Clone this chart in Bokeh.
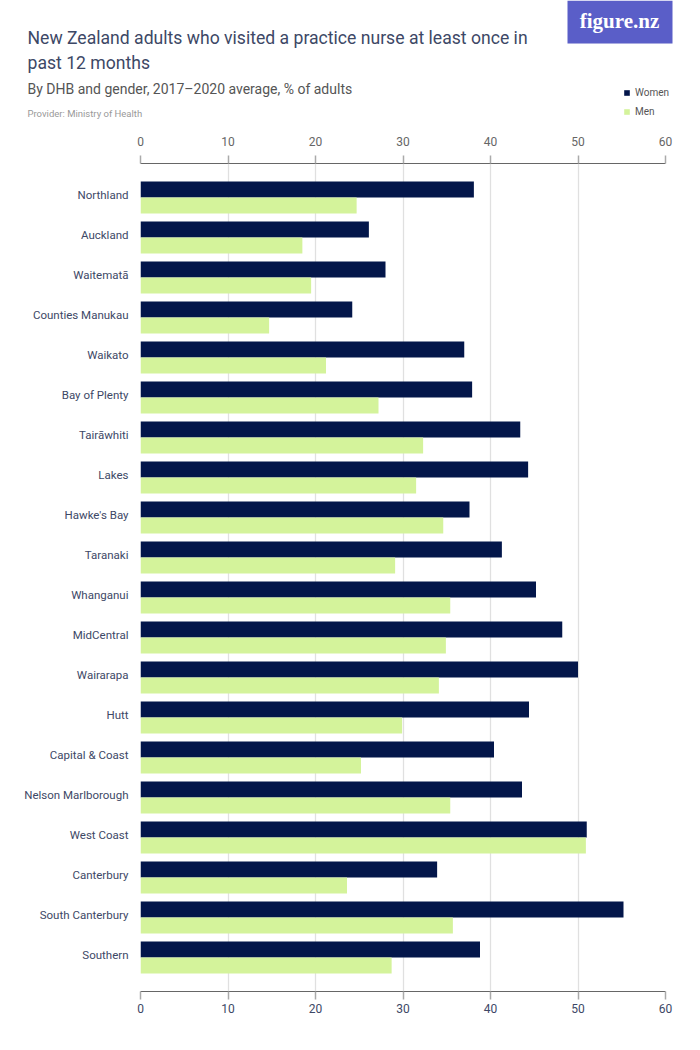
from bokeh.plotting import figure
from bokeh.layouts import column
from bokeh.models import (Range1d, LinearAxis, FixedTicker, Label, Legend, LegendItem,
                          ColumnDataSource)
from bokeh.embed import file_html
from bokeh.resources import INLINE

# ---------------- data ----------------
categories = ["Northland", "Auckland", "Waitematā", "Counties Manukau", "Waikato",
              "Bay of Plenty", "Tairāwhiti", "Lakes", "Hawke's Bay", "Taranaki",
              "Whanganui", "MidCentral", "Wairarapa", "Hutt", "Capital & Coast",
              "Nelson Marlborough", "West Coast", "Canterbury", "South Canterbury",
              "Southern"]
women = [38.1, 26.1, 28.0, 24.2, 37.0, 37.9, 43.4, 44.3, 37.6, 41.3,
         45.2, 48.2, 50.0, 44.4, 40.4, 43.6, 51.0, 33.9, 55.2, 38.8]
men = [24.7, 18.5, 19.5, 14.7, 21.2, 27.2, 32.3, 31.5, 34.6, 29.1,
       35.4, 34.9, 34.1, 29.9, 25.2, 35.4, 50.9, 23.6, 35.7, 28.7]
x_ticks = [0, 10, 20, 30, 40, 50, 60]
series_names = ["Women", "Men"]

title_line1 = "New Zealand adults who visited a practice nurse at least once in"
title_line2 = "past 12 months"
subtitle = "By DHB and gender, 2017–2020 average, % of adults"
provider = "Provider: Ministry of Health"
logo_text = "figure.nz"

# ---------------- style ----------------
WOMEN_C = "#03164a"
MEN_C = "#d4f39b"
TEXT_C = "#3d4866"
FONT = "Roboto"

W, H = 700, 1050
HEAD_H = 125                       # header figure height
FL, FR, FT, FB = 140, 665, 163, 991  # main frame edges (page px)
CAT0, PITCH = 197, 40              # first group centre & spacing (page px)


def ypx(py):
    return (py - CAT0) / PITCH


# ---------------- header (title, logo, legend) ----------------
h = figure(width=W, height=HEAD_H, output_backend="svg", toolbar_location=None,
           x_range=Range1d(0, W), y_range=Range1d(HEAD_H, 0),
           x_axis_location=None, y_axis_location=None,
           min_border=0)
h.frame_align = False
h.outline_line_color = None
h.grid.grid_line_color = None
h.background_fill_color = "white"
h.border_fill_color = "white"


def add_text(txt, px, py, size, color, align="left", style="normal", font=FONT):
    lab = Label(x=px, y=py, text=txt, text_font=font, text_font_size=size,
                text_color=color, text_align=align, text_baseline="middle",
                text_font_style=style)
    h.add_layout(lab)
    return lab


add_text(title_line1, 27, 37, "17.6px", TEXT_C)
add_text(title_line2, 27, 62, "17.6px", TEXT_C)
add_text(subtitle, 27, 88, "14px", "#555555")
add_text(provider, 27, 113, "9.5px", "#999999")

h.quad(left=567, right=672, top=0, bottom=42.5, fill_color="#5a5ec8", line_color=None)
h.quad(left=567, right=672, top=42.5, bottom=43.5, fill_color="#a9abe0", line_color=None)
add_text(logo_text, 619, 20, "21px", "white", align="center", style="bold",
         font="Liberation Serif")

# zero-width proxy bars so the legend has swatches to draw
lw = h.hbar(y=[0], left=[0], right=[0], height=0, fill_color=WOMEN_C, line_color=None)
lm = h.hbar(y=[0], left=[0], right=[0], height=0, fill_color=MEN_C, line_color=None)
legend = Legend(items=[LegendItem(label=series_names[0], renderers=[lw]),
                       LegendItem(label=series_names[1], renderers=[lm])],
                location=(623, HEAD_H - 86 - 31))
legend.glyph_width = 7
legend.glyph_height = 7
legend.label_text_font = FONT
legend.label_text_font_size = "10px"
legend.label_text_color = "#555555"
legend.label_standoff = 5
legend.spacing = 7
legend.padding = 0
legend.margin = 0
legend.border_line_color = None
legend.background_fill_alpha = 0
legend.label_height = 12
h.add_layout(legend)

# ---------------- main chart ----------------
idx = list(range(len(categories)))
off = 0.2
bh = 0.4
src = ColumnDataSource(dict(
    yw=[i - off for i in idx], ym=[i + off for i in idx],
    women=women, men=men))

p = figure(width=W, height=H - HEAD_H, output_backend="svg", toolbar_location=None,
           x_range=Range1d(0, 60), y_range=Range1d(ypx(FB), ypx(FT)),
           x_axis_location=None, y_axis_location=None,
           min_border_left=FL, min_border_right=W - FR,
           min_border_top=FT - HEAD_H, min_border_bottom=H - FB)
p.frame_align = False
p.outline_line_color = None
p.background_fill_color = "white"
p.border_fill_color = "white"

p.hbar(y="yw", left=0, right="women", height=bh, source=src,
       fill_color=WOMEN_C, line_color=None)
p.hbar(y="ym", left=0, right="men", height=bh, source=src,
       fill_color=MEN_C, line_color=None)

p.xgrid.ticker = FixedTicker(ticks=x_ticks)
p.xgrid.grid_line_color = "#e0e0e0"
p.xgrid.grid_line_width = 1.3
p.ygrid.grid_line_color = None


def make_xaxis(label_color, standoff):
    ax = LinearAxis(ticker=FixedTicker(ticks=x_ticks))
    ax.axis_line_color = "#666666"
    ax.major_tick_line_color = "#aaaaaa"
    ax.major_tick_line_width = 1.5
    ax.major_tick_out = 8
    ax.major_tick_in = 0
    ax.minor_tick_line_color = None
    ax.major_label_text_font = FONT
    ax.major_label_text_font_size = "12px"
    ax.major_label_text_color = label_color
    ax.major_label_standoff = standoff
    return ax


p.add_layout(make_xaxis("#666666", 10), "above")
p.add_layout(make_xaxis(TEXT_C, 4), "below")

label_pos = [i - 0.06 for i in idx]
yax = LinearAxis(ticker=FixedTicker(ticks=label_pos))
yax.major_label_overrides = {y: c for y, c in zip(label_pos, categories)}
yax.axis_line_color = None
yax.major_tick_line_color = None
yax.minor_tick_line_color = None
yax.major_label_text_font = FONT
yax.major_label_text_font_size = "11.5px"
yax.major_label_text_color = TEXT_C
yax.major_label_standoff = 6
p.add_layout(yax, "left")

layout = column(h, p, spacing=0)
open("out.html", "w").write(file_html(layout, INLINE))
